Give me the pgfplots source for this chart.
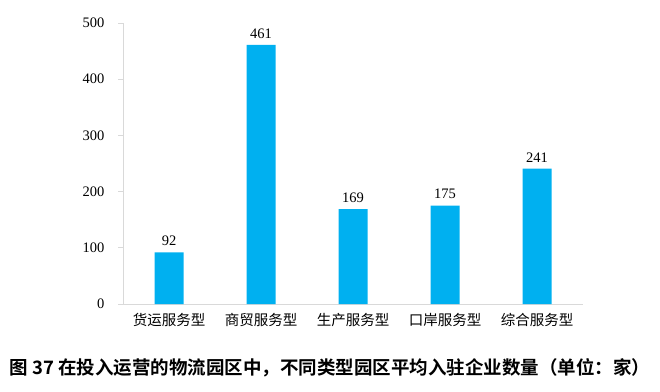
\documentclass[border=0pt]{standalone}
\usepackage{pgfplots}
\pgfplotsset{compat=1.18}
\usepackage{fontspec}
\setmainfont{Liberation Serif}
\newfontfamily\cjk{Noto Sans CJK SC}
\newfontfamily\cjkb{Noto Sans CJK SC Bold}
\definecolor{barblue}{HTML}{00B0F0}
\definecolor{axgray}{HTML}{D9D9D9}
\begin{document}
\begin{tikzpicture}[x=1bp,y=1bp]
\path[use as bounding box] (0,0) rectangle (660,391);
\begin{axis}[
  at={(123bp,87bp)}, anchor=south west,
  scale only axis, width=460bp, height=281bp,
  xmin=-0.5, xmax=4.5, ymin=0, ymax=500,
  axis x line*=bottom, axis y line*=left,
  axis line style={axgray, line width=0.8pt, -},
  ytick={0,100,...,500},
  xtick={0,1,2,3,4},
  xticklabels={货运服务型,商贸服务型,生产服务型,口岸服务型,综合服务型},
  xticklabel style={font=\cjk\fontsize{14.5bp}{16bp}\selectfont, yshift=-1bp},
  yticklabel style={font=\fontsize{14.5bp}{17bp}\selectfont, xshift=-10bp},
  /pgf/number format/assume math mode=true,
  major x tick style={draw=none},
  extra x ticks={-0.5,0.5,1.5,2.5,3.5,4.5},
  extra x tick labels={},
  extra x tick style={tick style={axgray, line width=0.8pt}, major tick length=5bp, tick align=outside},
  ytick style={axgray, line width=0.8pt},
  tick align=outside, major tick length=5bp,
  ybar, bar width=29bp,
  nodes near coords,
  nodes near coords style={font=\fontsize{14.5bp}{17bp}\selectfont, black, yshift=3bp},
  clip=false,
]
\addplot[fill=barblue, draw=none] coordinates {(0,92) (1,461) (2,169) (3,175) (4,241)};
\end{axis}
\node[font=\cjkb\fontsize{18.5bp}{20bp}\selectfont] at (330,23) {图 37 在投入运营的物流园区中，不同类型园区平均入驻企业数量（单位：家）};
\end{tikzpicture}
\end{document}
